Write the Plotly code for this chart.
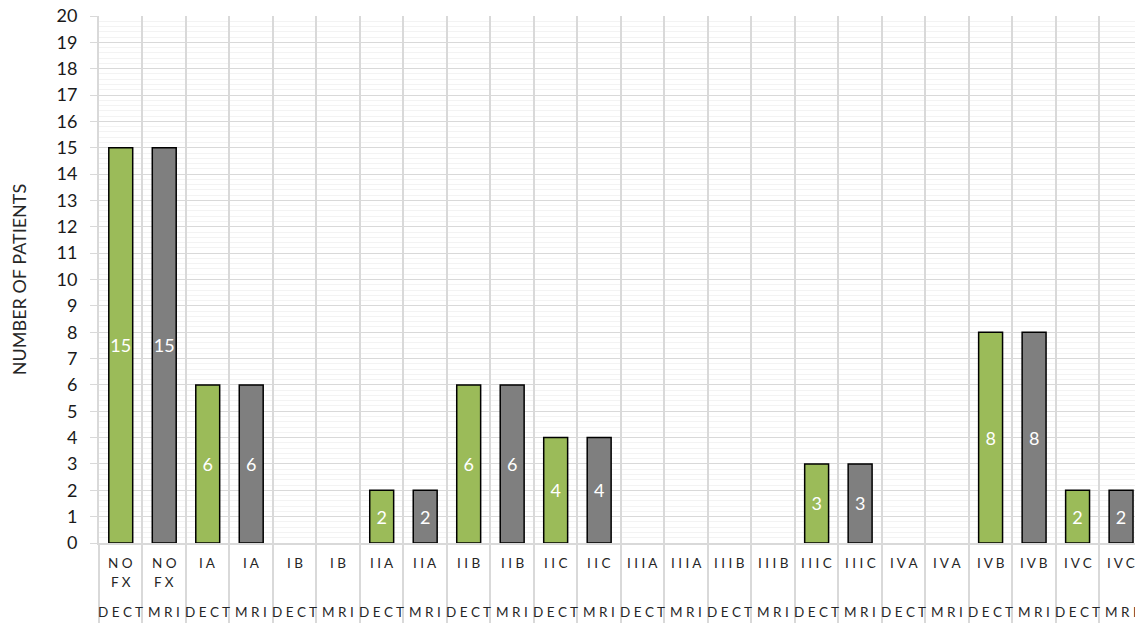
import plotly.graph_objects as go

stages = ["NO FX", "IA", "IB", "IIA", "IIB", "IIC", "IIIA", "IIIB", "IIIC", "IVA", "IVB", "IVC"]
modalities = ["DECT", "MRI"]
dect_values = [15, 6, 0, 2, 6, 4, 0, 0, 3, 0, 8, 2]
mri_values = [15, 6, 0, 2, 6, 4, 0, 0, 3, 0, 8, 2]
y_title = "NUMBER OF PATIENTS"
colors = {"DECT": "#9BBB59", "MRI": "#7F7F7F"}

FONT = "Lato, 'Open Sans', sans-serif"
fig = go.Figure()

series = {"DECT": dect_values, "MRI": mri_values}
for m_idx, mod in enumerate(modalities):
    vals = series[mod]
    xs = [2 * i + m_idx for i in range(len(stages))]
    ys = [v if v > 0 else None for v in vals]
    fig.add_trace(go.Bar(
        x=xs, y=ys, width=0.55, name=mod,
        marker=dict(color=colors[mod], line=dict(color="#000000", width=1.5)),
        text=[str(v) if v > 0 else "" for v in vals],
        textposition="inside", insidetextanchor="middle", textangle=0,
        textfont=dict(color="white", size=18, family=FONT),
        constraintext="none",
        hoverinfo="x+y",
    ))

n = 2 * len(stages)
plot_h = 623 - 16 - 80

def spaced(s):
    return " ".join(list(s.replace(" ", "")))

annotations = []
for i, st in enumerate(stages):
    lines = st.split(" ")
    for m_idx, mod in enumerate(modalities):
        x = 2 * i + m_idx
        for li, ln in enumerate(lines):
            annotations.append(dict(
                x=x, xref="x", y=-(20 + 19 * li) / plot_h, yref="paper",
                text=spaced(ln), showarrow=False, xanchor="center", yanchor="middle",
                font=dict(size=13.5, color="#262626", family=FONT)))
        annotations.append(dict(
            x=x, xref="x", y=-69 / plot_h, yref="paper",
            text=spaced(mod), showarrow=False, xanchor="center", yanchor="middle",
            font=dict(size=13.5, color="#262626", family=FONT)))

fig.update_layout(
    width=1135, height=623,
    margin=dict(l=99, r=0, t=16, b=80),
    plot_bgcolor="white", paper_bgcolor="white",
    showlegend=False, barmode="overlay",
    font=dict(family=FONT, color="#262626"),
    annotations=annotations,
    xaxis=dict(
        range=[-0.5, n - 0.5 - 0.18],
        tickmode="array", tickvals=[k - 0.5 for k in range(n + 1)],
        showticklabels=False, ticks="outside", ticklen=80, tickcolor="#D9D9D9", tickwidth=1.5,
        showgrid=True, gridcolor="#D9D9D9", gridwidth=1.5,
        showline=True, linecolor="#D9D9D9", linewidth=1.5,
        zeroline=False, fixedrange=True,
    ),
    yaxis=dict(
        range=[0, 20], dtick=1, tick0=0,
        ticks="outside", ticklen=7, tickcolor="#D9D9D9",
        ticksuffix="\u00a0\u00a0",
        tickfont=dict(size=18, color="#1a1a1a", family=FONT),
        showgrid=True, gridcolor="#D9D9D9", gridwidth=1,
        minor=dict(dtick=0.2, showgrid=True, gridcolor="#F3F3F3", gridwidth=1),
        showline=True, linecolor="#D9D9D9", linewidth=1.5,
        zeroline=False,
        title=dict(text=y_title, font=dict(size=18, color="#262626", family=FONT), standoff=25),
    ),
)

fig.write_html("out.html")
